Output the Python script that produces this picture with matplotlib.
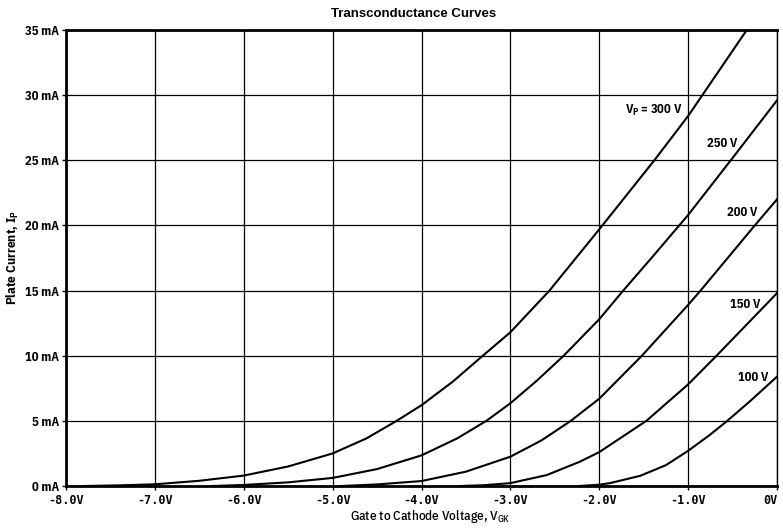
import matplotlib
matplotlib.use('Agg')
import matplotlib.pyplot as plt

# grid voltage (V) / plate current (mA)
vg_300 = [-7.8, -7.4, -7.0, -6.5, -6.0, -5.5, -5.0, -4.62, -4.28, -4.0, -3.65, -3.31, -3.0,
          -2.56, -2.0, -1.38, -1.0, -0.84, -0.34]
ip_300 = [0.0, 0.05, 0.13, 0.4, 0.8, 1.5, 2.5, 3.65, 5.0, 6.2, 8.0, 10.0, 11.8,
          15.0, 19.7, 25.0, 28.4, 30.0, 35.0]

vg_250 = [-6.35, -6.0, -5.5, -5.0, -4.5, -4.0, -3.6, -3.27, -3.0, -2.7, -2.4, -2.0,
          -1.73, -1.4, -1.1, -1.0, -0.52, 0.0]
ip_250 = [0.0, 0.08, 0.28, 0.62, 1.3, 2.35, 3.65, 5.0, 6.35, 8.1, 10.0, 12.8,
          15.0, 17.6, 20.0, 20.8, 25.0, 29.6]

vg_200 = [-4.9, -4.5, -4.0, -3.5, -3.0, -2.65, -2.32, -2.0, -1.52, -1.0, -0.86, -0.25, 0.0]
ip_200 = [0.0, 0.12, 0.38, 1.1, 2.25, 3.5, 5.0, 6.7, 10.0, 13.9, 15.0, 20.0, 22.0]

vg_150 = [-3.57, -3.3, -3.0, -2.59, -2.22, -2.0, -1.47, -1.0, -0.68, -0.34, 0.0]
ip_150 = [0.0, 0.06, 0.22, 0.84, 1.86, 2.6, 5.0, 7.8, 10.0, 12.4, 14.8]

vg_100 = [-2.22, -2.0, -1.88, -1.54, -1.25, -1.0, -0.76, -0.57, -0.31, 0.0]
ip_100 = [0.0, 0.1, 0.22, 0.78, 1.6, 2.7, 3.9, 4.94, 6.47, 8.39]

curves = [(vg_300, ip_300), (vg_250, ip_250), (vg_200, ip_200), (vg_150, ip_150), (vg_100, ip_100)]

# curve labels: text, right edge x, centre y
labels = [(r'V$_\mathregular{P}$ = 300 V', -1.06, 28.8),
          ('250 V', -0.45, 26.3),
          ('200 V', -0.22, 21.0),
          ('150 V', -0.19, 13.9),
          ('100 V', -0.10, 8.3)]

x_ticks = [-8, -7, -6, -5, -4, -3, -2, -1, 0]
x_ticklabels = ['-8.0V', '-7.0V', '-6.0V', '-5.0V', '-4.0V', '-3.0V', '-2.0V', '-1.0V', '0V']
y_ticks = [0, 5, 10, 15, 20, 25, 30, 35]
y_ticklabels = ['%d mA' % v for v in y_ticks]

narrow = ['Liberation Sans Narrow', 'Arial Narrow', 'IBM Plex Sans Condensed', 'DejaVu Sans']
mono = ['DejaVu Sans Mono', 'DejaVu Sans']

fig = plt.figure(figsize=(7.83, 5.32), dpi=100)
ax = fig.add_axes([66 / 783, 46 / 532, 711 / 783, 456 / 532])

for vg, ip in curves:
    ax.plot(vg, ip, color='black', linewidth=1.5, solid_joinstyle='round', zorder=3)

for txt, x, y in labels:
    ax.text(x, y, txt, ha='right', va='center', fontsize=9, fontweight='bold',
            family=narrow, color='black', zorder=4)

ax.set_xlim(-8, 0)
ax.set_ylim(0, 35)
ax.set_xticks(x_ticks)
ax.set_xticklabels(x_ticklabels, family=mono, fontweight='bold', fontsize=8.5)
ax.get_xticklabels()[-1].set_ha('right')
ax.set_yticks(y_ticks)
ax.set_yticklabels(y_ticklabels, family=narrow, fontweight='bold', fontsize=9)
ax.tick_params(axis='y', length=3, width=1, color='black', pad=2)
ax.tick_params(axis='x', length=3, width=1, color='black', pad=3)
ax.grid(True, color='black', linewidth=0.9)
ax.set_axisbelow(True)

for side in ['left', 'bottom', 'top']:
    ax.spines[side].set_linewidth(2)
ax.spines['right'].set_linewidth(1)

fig.text(414 / 783, 1 - 14 / 532, 'Transconductance Curves', ha='center', va='center',
         fontsize=9.5, fontweight='bold', family=['Liberation Sans', 'DejaVu Sans'])
ax.set_xlabel(r'Gate to Cathode Voltage, V$_\mathregular{GK}$', family=narrow,
              fontsize=9.5, fontweight='medium')
ax.xaxis.set_label_coords((430 - 66) / 711, -(508 - 486) / 456)
ax.set_ylabel(r'Plate Current, I$_\mathregular{P}$', family=narrow,
              fontsize=9.5, fontweight='bold')
ax.yaxis.set_label_coords(-(66 - 21) / 711, 0.5)

fig.savefig('out.png', dpi=100)
